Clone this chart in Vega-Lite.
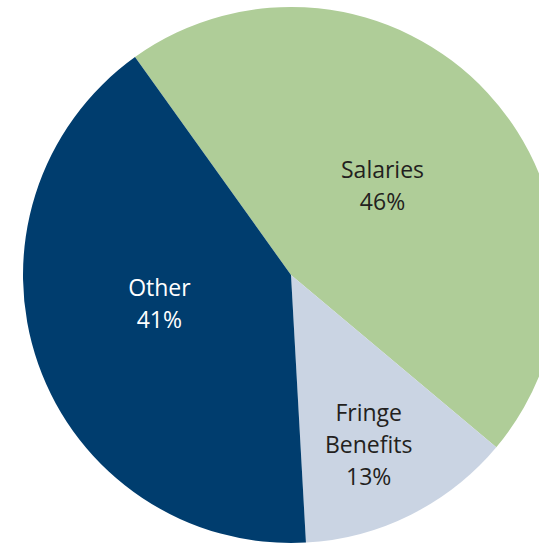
{
  "$schema": "https://vega.github.io/schema/vega-lite/v6.json",
  "autosize": "none",
  "padding": 0,
  "width": 582,
  "height": 550,
  "background": "white",
  "config": {"view": {"stroke": null}},
  "data": {
    "values": [
      {"order": 1, "category": "Salaries", "label": "Salaries", "pct": 46},
      {"order": 2, "category": "Fringe Benefits", "label": "Fringe\nBenefits", "pct": 13},
      {"order": 3, "category": "Other", "label": "Other", "pct": 41}
    ]
  },
  "transform": [{"calculate": "datum.label + '\\n' + datum.pct + '%'", "as": "txt"}],
  "encoding": {
    "theta": {"field": "pct", "type": "quantitative", "stack": true, "scale": {"range": [-0.6213, 5.6619]}},
    "order": {"field": "order", "type": "quantitative"}
  },
  "layer": [
    {
      "mark": {"type": "arc", "outerRadius": 268},
      "encoding": {
        "color": {
          "field": "category", "type": "nominal", "legend": null,
          "scale": {"domain": ["Salaries", "Fringe Benefits", "Other"], "range": ["#afcd98", "#cad4e3", "#003d6e"]}
        }
      }
    },
    {
      "mark": {"type": "text", "radius": 122, "dx": 2, "dy": -21, "fontSize": 23, "font": "Open Sans", "lineBreak": "\n", "lineHeight": 32, "align": "center", "baseline": "middle", "fill": "#231f20"},
      "encoding": {"text": {"condition": {"test": "datum.category === 'Salaries'", "field": "txt"}, "value": ""}}
    },
    {
      "mark": {"type": "text", "radius": 187, "dx": -6, "dy": -28, "fontSize": 23, "font": "Open Sans", "lineBreak": "\n", "lineHeight": 32, "align": "center", "baseline": "middle", "fill": "#231f20"},
      "encoding": {"text": {"condition": {"test": "datum.category === 'Fringe Benefits'", "field": "txt"}, "value": ""}}
    },
    {
      "mark": {"type": "text", "radius": 130, "dx": -9, "dy": -29, "fontSize": 23, "font": "Open Sans", "lineBreak": "\n", "lineHeight": 32, "align": "center", "baseline": "middle", "fill": "#ffffff"},
      "encoding": {"text": {"condition": {"test": "datum.category === 'Other'", "field": "txt"}, "value": ""}}
    }
  ]
}
